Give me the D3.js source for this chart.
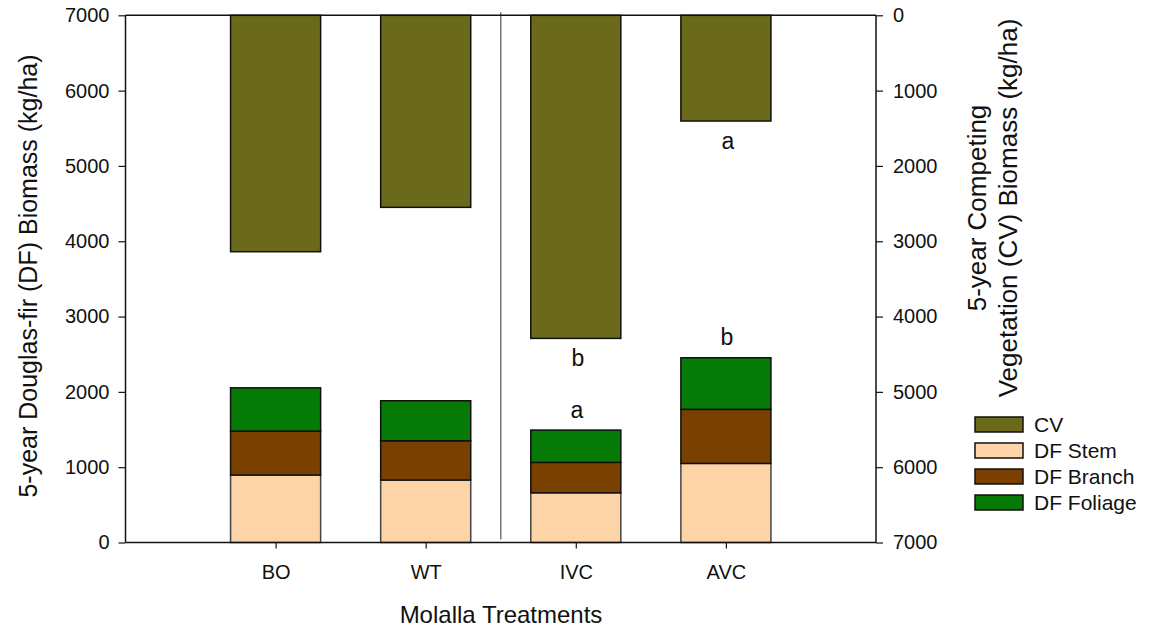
<!DOCTYPE html>
<html>
<head>
<meta charset="utf-8">
<script src="https://cdn.jsdelivr.net/npm/d3@7"></script>
<style>
body { margin:0; background:#fff; }
text { font-family: "Liberation Sans", Arial, sans-serif; fill:#111; }
</style>
</head>
<body>
<svg id="chart" width="1151" height="630"></svg>
<script>
const categories = ["BO", "WT", "IVC", "AVC"];
const dfStem = [895, 829, 660, 1050];
const dfBranch = [584, 522, 404, 718];
const dfFoliage = [575, 531, 429, 685];
const cv = [3139, 2550, 4290, 1404];
const leftTicks = [0, 1000, 2000, 3000, 4000, 5000, 6000, 7000];
const rightTicks = [0, 1000, 2000, 3000, 4000, 5000, 6000, 7000];
const cvLetters = ["", "", "b", "a"];
const dfLetters = ["", "", "a", "b"];
const seriesNames = ["CV", "DF Stem", "DF Branch", "DF Foliage"];
const seriesColors = ["#6b6a1a", "#fcd4a8", "#7a4000", "#067a06"];

const svg = d3.select("#chart");
const L = 125.5, R = 876, T = 15.3, B = 542.5;

const x = d3.scaleLinear().domain([0, 5]).range([L, R]);
const yL = d3.scaleLinear().domain([0, 7000]).range([B, T]);
const yR = d3.scaleLinear().domain([0, 7000]).range([T, B]);
const barW = (x(1) - x(0)) * 0.6;

const dfData = categories.map((c, i) => ({ cat: c, idx: i + 1, stem: dfStem[i], branch: dfBranch[i], foliage: dfFoliage[i] }));
const stack = d3.stack().keys(["stem", "branch", "foliage"])(dfData);

// CV bars hanging from the top (right axis, inverted)
svg.append("g").selectAll("rect").data(cv).join("rect")
  .attr("x", (d, i) => x(i + 1) - barW / 2)
  .attr("width", barW)
  .attr("y", yR(0))
  .attr("height", d => yR(d) - yR(0))
  .attr("fill", seriesColors[0])
  .attr("stroke", "#111")
  .attr("stroke-width", 1.5);

stack.forEach((layer, li) => {
  svg.append("g").selectAll("rect").data(layer).join("rect")
    .attr("x", d => x(d.data.idx) - barW / 2)
    .attr("width", barW)
    .attr("y", d => yL(d[1]))
    .attr("height", d => yL(d[0]) - yL(d[1]))
    .attr("fill", seriesColors[li + 1])
    .attr("stroke", li === 0 ? "#444" : "#111")
    .attr("stroke-width", 1.5);
});

// divider line
svg.append("line")
  .attr("x1", x(2.5)).attr("x2", x(2.5))
  .attr("y1", T - 3).attr("y2", B - 3)
  .attr("stroke", "#777").attr("stroke-width", 1.5);

// significance letters
svg.append("g").selectAll("text").data(cv).join("text")
  .attr("x", (d, i) => x(i + 1) + 2)
  .attr("y", d => yR(d) + 27.5)
  .attr("text-anchor", "middle")
  .style("font-size", "23px")
  .text((d, i) => cvLetters[i]);
svg.append("g").selectAll("text").data(dfData).join("text")
  .attr("x", d => x(d.idx) + 1)
  .attr("y", d => yL(d.stem + d.branch + d.foliage) - 12.5)
  .attr("text-anchor", "middle")
  .style("font-size", "23px")
  .text((d, i) => dfLetters[i]);

// top frame
svg.append("line").attr("x1", L).attr("x2", R).attr("y1", T).attr("y2", T).attr("stroke", "#111").attr("stroke-width", 1.5);

// axes
const axL = svg.append("g").attr("transform", `translate(${L},0)`)
  .call(d3.axisLeft(yL).tickValues(leftTicks).tickSize(7).tickPadding(9).tickFormat(d3.format("d")));
const axR = svg.append("g").attr("transform", `translate(${R},0)`)
  .call(d3.axisRight(yR).tickValues(rightTicks).tickSize(7).tickPadding(10).tickFormat(d3.format("d")));
const axB = svg.append("g").attr("transform", `translate(0,${B})`)
  .call(d3.axisBottom(x).tickValues([1, 2, 3, 4]).tickSize(6).tickPadding(16).tickFormat(d => categories[d - 1]));
[axL, axR, axB].forEach(a => {
  a.select(".domain").attr("stroke", "#111").attr("stroke-width", 1.5);
  a.selectAll(".tick line").attr("stroke", "#111").attr("stroke-width", 1.2);
  a.selectAll("text").style("font-size", "20px").attr("fill", "#111").style("font-family", "'Liberation Sans', Arial, sans-serif");
});
axB.select(".domain").attr("d", `M${L},0H${R}`);
axL.select(".domain").attr("d", `M0,${B}V${T}`);
axR.select(".domain").attr("d", `M0,${T}V${B}`);

// axis titles
svg.append("text")
  .attr("transform", `translate(37,276) rotate(-90)`)
  .attr("text-anchor", "middle")
  .style("font-size", "25px")
  .text("5-year Douglas-fir (DF) Biomass (kg/ha)");
const rt = svg.append("text")
  .attr("transform", `translate(986,208) rotate(-90)`)
  .attr("text-anchor", "middle")
  .style("font-size", "26px");
rt.append("tspan").attr("x", 0).attr("dy", 0).text("5-year Competing");
rt.append("tspan").attr("x", 0).attr("dy", 31).text("Vegetation (CV) Biomass (kg/ha)");
svg.append("text")
  .attr("x", 501).attr("y", 623)
  .attr("text-anchor", "middle")
  .style("font-size", "24px")
  .text("Molalla Treatments");

// legend
const lg = svg.append("g").attr("transform", "translate(975,417)");
seriesNames.forEach((n, i) => {
  lg.append("rect").attr("x", 0).attr("y", i * 26).attr("width", 48).attr("height", 15)
    .attr("fill", seriesColors[i]).attr("stroke", "#111").attr("stroke-width", 1.5);
  lg.append("text").attr("x", 59).attr("y", i * 26 + 15).style("font-size", "21px").text(n);
});
</script>
</body>
</html>
